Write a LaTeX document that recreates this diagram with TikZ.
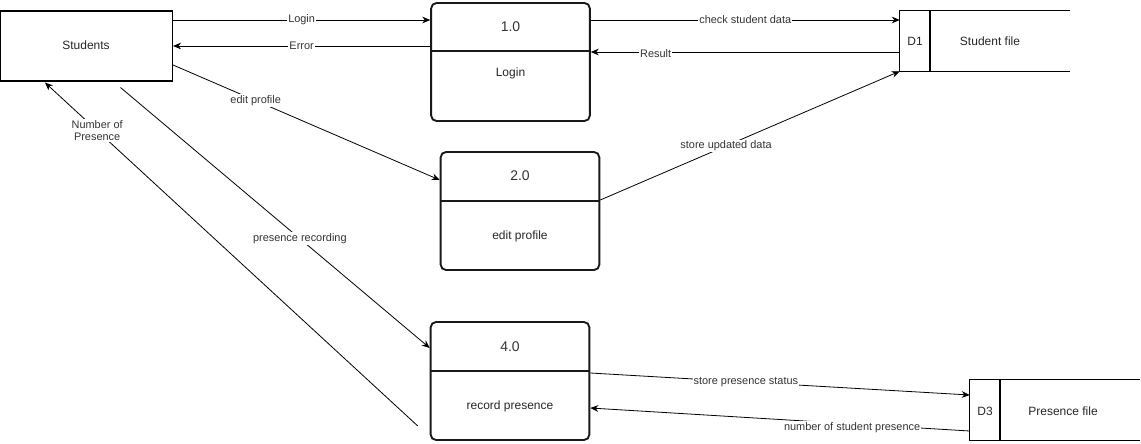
\documentclass[tikz,border=0pt]{standalone}
\usepackage{fontspec}
\setmainfont{Liberation Sans}
\usetikzlibrary{arrows.meta,calc}
\begin{document}
\begin{tikzpicture}[x=0.75pt,y=-0.75pt,
  flow/.style={draw=black,line width=0.6pt,-{Stealth[length=6pt,width=5pt]}},
  lbl/.style={fill=white,inner sep=0.8pt,font=\fontsize{8.2pt}{9.5pt}\selectfont,text=black!80},
  boxtxt/.style={font=\fontsize{9pt}{11pt}\selectfont,text=black!85},
  numtxt/.style={font=\fontsize{10.5pt}{12pt}\selectfont,text=black!80},
  ent/.style={draw=black,line width=0.8pt,minimum width=129pt,minimum height=52.5pt,inner sep=0pt},
  proc/.style={draw=black!90,line width=1.4pt,rounded corners=4pt,minimum width=119pt,minimum height=88.5pt,inner sep=0pt},
  divline/.style={line width=1.4pt,draw=black!90},
  storeline/.style={line width=0.8pt,draw=black},
  storebox/.style={minimum width=127.5pt,minimum height=45pt,inner sep=0pt}]
\useasboundingbox (0,0) rectangle (1141,443);
% entity
\node[ent] (stu) at (86.5,46) {};
\node[boxtxt] (stut) at (86,45) {Students};
% processes
\node[proc] (p1) at (510.5,62) {};
\draw[divline] (p1.west |- 0,51) -- (p1.east |- 0,51);
\node[numtxt] (p1n) at (510.5,27) {1.0};
\node[boxtxt] (p1t) at (510.5,73) {Login};
\node[proc] (p2) at (520,211) {};
\draw[divline] (p2.west |- 0,201) -- (p2.east |- 0,201);
\node[numtxt] (p2n) at (520,176) {2.0};
\node[boxtxt] (p2t) at (520,236) {edit profile};
\node[proc] (p4) at (510,381) {};
\draw[divline] (p4.west |- 0,371) -- (p4.east |- 0,371);
\node[numtxt] (p4n) at (510,347) {4.0};
\node[boxtxt] (p4t) at (510,406) {record presence};
% data stores
\node[storebox] (d1) at (985,41) {};
\draw[storeline] (d1.north east) -- (d1.north west) -- (d1.south west) -- (d1.south east);
\draw[storeline] (d1.north west -| 930,0) -- (d1.south west -| 930,0);
\node[boxtxt] (d1id) at (915,41) {D1};
\node[boxtxt] (d1t) at (990,41) {Student file};
\node[storebox] (d3) at (1055,410) {};
\draw[storeline] (d3.north east) -- (d3.north west) -- (d3.south west) -- (d3.south east);
\draw[storeline] (d3.north west -| 1000,0) -- (d3.south west -| 1000,0);
\node[boxtxt] (d3id) at (985,411) {D3};
\node[boxtxt] (d3t) at (1063,411) {Presence file};
% flows
\draw[flow] (stu.east |- 0,20) -- node[lbl] {Login} (p1.west |- 0,20);
\draw[flow] (p1.west |- 0,46) -- node[lbl] {Error} (stu.east |- 0,46);
\draw[flow] (p1.east |- 0,20) -- node[lbl] {check student data} (d1.west |- 0,20);
\draw[flow] (d1.west |- 0,52) -- node[lbl,pos=0.79,yshift=-1.5pt] {Result} (p1.east |- 0,52);
\draw[flow] (stu.east |- 0,65) -- node[lbl,pos=0.31] {edit profile} (p2.west |- 0,180);
\draw[flow] (p2.east |- 0,200) -- node[lbl,pos=0.42] {store updated data} (d1.south west);
\draw[flow] ([shift={(34,6)}]stu.south) -- node[lbl,pos=0.58] {presence recording} (p4.west |- 0,348);
\draw[flow] ([shift={(-12,-15)}]p4.south west) -- node[lbl,pos=0.86,align=center] {Number of\\Presence} ([shift={(45,1)}]stu.south west);
\draw[flow] (p4.east |- 0,373) -- node[lbl,pos=0.41] {store presence status} (d3.west |- 0,395);
\draw[flow] (d3.west |- 0,431) -- node[lbl,pos=0.31,yshift=-2.5pt] {number of student presence} (p4.east |- 0,408);
\end{tikzpicture}
\end{document}
